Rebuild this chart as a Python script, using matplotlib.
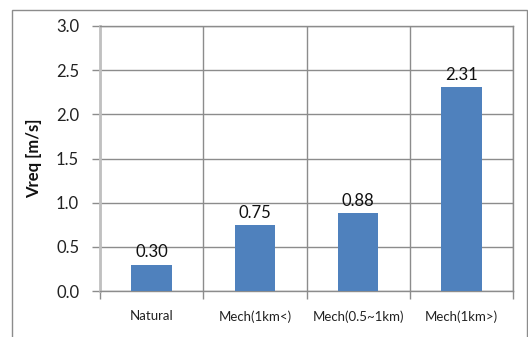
import matplotlib
matplotlib.use("Agg")
import matplotlib.pyplot as plt
from matplotlib.patches import Rectangle
import numpy as np

categories = ["Natural", "Mech(1km<)", "Mech(0.5~1km)", "Mech(1km>)"]
values = [0.30, 0.75, 0.88, 2.31]
value_labels = ["0.30", "0.75", "0.88", "2.31"]
y_ticks = [0.0, 0.5, 1.0, 1.5, 2.0, 2.5, 3.0]
y_tick_labels = ["0.0", "0.5", "1.0", "1.5", "2.0", "2.5", "3.0"]

plt.rcParams["font.family"] = ["Lato", "DejaVu Sans"]

W, H = 528, 337
fig = plt.figure(figsize=(W / 100, H / 100), dpi=100)
fig.patch.set_facecolor("white")

# chart-area frame
fig.patches.append(Rectangle((12 / W, -0.1), (527 - 12) / W, 1.1 - 10 / H,
                             transform=fig.transFigure, fill=False,
                             edgecolor="#8c8c8c", linewidth=1.0))

ax = fig.add_axes([100 / W, 46 / H, 413 / W, 265 / H])
x = np.arange(len(categories))
ax.bar(x, values, width=0.39, color="#4F81BD", zorder=3)

for xi, v, lab in zip(x, values, value_labels):
    ax.annotate(lab, (xi, v), xytext=(0, 3), textcoords="offset points",
                ha="center", va="bottom", fontsize=12, color="#111111")

ax.set_xlim(-0.5, len(categories) - 0.5)
ax.set_ylim(0, 3.0)
ax.set_yticks(y_ticks)
ax.set_yticklabels(y_tick_labels, fontsize=12, color="#222222")
ax.set_xticks(x)
ax.set_xticklabels(categories, fontsize=9.5, color="#222222")
ax.set_xticks(np.arange(-0.5, len(categories)), minor=True)
ax.tick_params(axis="x", which="major", length=0, pad=14)
ax.tick_params(axis="x", which="minor", length=6, color="#8c8c8c", width=1)
ax.tick_params(axis="y", length=6, color="#8c8c8c", width=1, pad=9)

ax.grid(axis="y", color="#8c8c8c", linewidth=1, zorder=1)
ax.grid(axis="x", which="minor", color="#8c8c8c", linewidth=1, zorder=1)

for side in ["top", "right", "bottom"]:
    ax.spines[side].set_color("#8c8c8c")
    ax.spines[side].set_linewidth(1)
ax.spines["left"].set_color("#c0c0c0")
ax.spines["left"].set_linewidth(2)

ax.set_ylabel("Vreq [m/s]", fontsize=12, fontweight="bold", color="#111111", labelpad=10)

fig.savefig("out.png", dpi=100)
